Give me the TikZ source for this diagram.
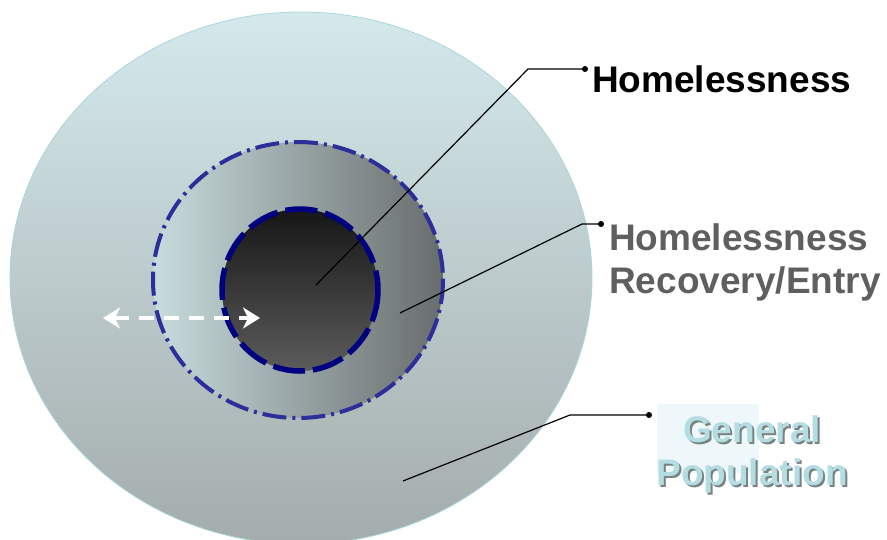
\documentclass[tikz,border=0pt]{standalone}
\usepackage{fontspec}
\setmainfont{Liberation Sans}
\usetikzlibrary{arrows.meta}
\definecolor{outtop}{RGB}{212,233,236}
\definecolor{outbot}{RGB}{164,172,172}
\definecolor{outedge}{RGB}{168,214,220}
\definecolor{midlight}{RGB}{200,220,221}
\definecolor{midmid}{RGB}{165,178,178}
\definecolor{middark}{RGB}{104,108,108}
\definecolor{intop}{RGB}{22,22,22}
\definecolor{inbot}{RGB}{92,92,92}
\definecolor{navy}{RGB}{0,0,128}
\definecolor{ringblue}{RGB}{46,46,154}
\definecolor{recgray}{RGB}{95,95,95}
\definecolor{gencyan}{RGB}{180,221,226}
\definecolor{genshadow}{RGB}{120,130,130}
\definecolor{genbox}{RGB}{238,247,249}
\newcommand\shtxt[1]{\leavevmode\rlap{\hspace{2pt}\raisebox{-2pt}{\color{genshadow}#1}}{\color{gencyan}#1}}
\tikzset{
  lbl/.style={inner sep=0pt, font=\fontsize{37}{43}\selectfont\bfseries, align=left},
  callout/.style={draw=black, line width=1.2pt},
  dotmark/.style={circle, fill=black, inner sep=0pt, minimum size=6pt},
  twoway/.style={>={Stealth[length=17pt,width=21pt,inset=5pt]}, <->},
}
\begin{document}
\begin{tikzpicture}[x=1pt,y=-1pt]
\useasboundingbox (0,0) rectangle (887,539);
% outer population
\shade[top color=outtop, bottom color=outbot] (301,278) ellipse [x radius=291, y radius=266];
\draw[outedge, line width=0.8pt] (301,278) ellipse [x radius=291, y radius=266];
% middle ring
\shade[left color=midlight, middle color=midmid, right color=middark] (298,280) ellipse [x radius=145, y radius=138];
\draw[ringblue, line width=4pt, dash pattern=on 24pt off 6pt on 3pt off 6pt] (298,280) ellipse [x radius=145, y radius=138];
% inner core
\shade[top color=intop, bottom color=inbot] (300,290) ellipse [x radius=78, y radius=81];
\draw[navy, line width=5.5pt, dash pattern=on 32pt off 8pt] (300,290) ellipse [x radius=78, y radius=81];
% arrow
\coordinate (al) at (103,318);
\coordinate (ar) at (260,318);
\draw[white, line width=3.5pt, dash pattern=on 15pt off 10pt, twoway] (al) -- (ar);
% callouts
\coordinate (c1a) at (316,285);
\coordinate (c1b) at (528,69);
\node[dotmark] (d1) at (585,69) {};
\draw[callout] (c1a) -- (c1b) -- (d1.center);
\node[lbl, anchor=base west] (t1) at (592,92) {Homelessness};

\coordinate (c2a) at (400,313);
\coordinate (c2b) at (582,224);
\node[dotmark] (d2) at (601,224) {};
\draw[callout] (c2a) -- (c2b) -- (d2.center);
\node[lbl, anchor=base west, text=recgray] (t2) at (609,293) {Homelessness\\Recovery/Entry};

\coordinate (c3a) at (403,481);
\coordinate (c3b) at (570,415);
\node[dotmark] (d3) at (649,415) {};
\draw[callout] (c3a) -- (c3b) -- (d3.center);
\fill[genbox] (657,404) rectangle (759,473);
\node[lbl, align=center, anchor=base] (t3) at (752,485) {\shtxt{General}\\\shtxt{Population}};
\end{tikzpicture}
\end{document}
